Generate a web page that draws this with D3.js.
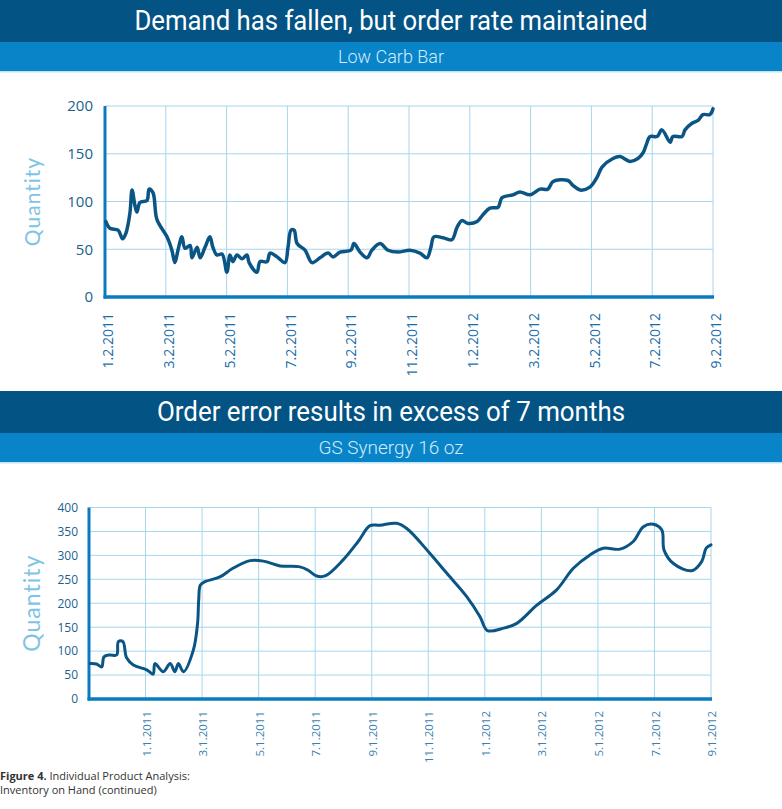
<!DOCTYPE html>
<html>
<head>
<meta charset="utf-8">
<script src="https://cdn.jsdelivr.net/npm/d3@7"></script>
<style>
  body { margin: 0; background: #fff; }
  svg { display: block; }
</style>
</head>
<body>
<div id="viz"></div>
<script>
// months since the first tick of each chart
const lowCarbMonth = [0.03, 0.16, 0.43, 0.58, 0.69, 0.82, 0.89, 0.99, 1.05, 1.15, 1.38, 1.45, 1.58, 1.71,
  2.04, 2.20, 2.30, 2.40, 2.53, 2.63, 2.80, 2.86, 3.03, 3.13, 3.29, 3.45, 3.55, 3.68, 3.85, 4.01, 4.11,
  4.21, 4.34, 4.51, 4.67, 4.74, 5.00, 5.10, 5.33, 5.43, 5.66, 5.92, 6.02, 6.12, 6.22, 6.32, 6.58, 6.81,
  7.07, 7.34, 7.50, 7.73, 8.09, 8.19, 8.39, 8.62, 8.78, 9.05, 9.31, 9.64, 10.03, 10.36, 10.59, 10.72,
  10.82, 11.12, 11.41, 11.58, 11.74, 11.94, 12.24, 12.43, 12.66, 12.93, 13.06, 13.42, 13.65, 13.98,
  14.31, 14.57, 14.74, 15.23, 15.39, 15.63, 15.95, 16.18, 16.35, 16.71, 16.94, 17.27, 17.53, 17.70,
  17.80, 17.93, 18.16, 18.32, 18.59, 18.68, 18.98, 19.08, 19.31, 19.51, 19.67, 19.90, 20.00];
const lowCarbQty = [79, 72, 70, 61, 67, 88, 112, 95, 89, 99, 101, 113, 109, 81,
  63, 49, 36, 49, 63, 51, 54, 41, 52, 41, 52, 63, 52, 44, 45, 26, 44,
  37, 44, 40, 44, 36, 26, 37, 37, 46, 42, 36, 52, 70, 70, 56, 49, 36,
  41, 46, 42, 47, 49, 56, 47, 41, 49, 56, 49, 47, 49, 46, 41, 52,
  63, 62, 60, 73, 80, 77, 79, 86, 93, 94, 104, 107, 110, 107,
  113, 113, 121, 122, 117, 112, 115, 125, 136, 145, 147, 142, 145, 151,
  159, 168, 168, 175, 162, 168, 168, 175, 182, 185, 191, 191, 197];

const synergyMonth = [0.04, 0.27, 0.45, 0.53, 0.74, 0.98, 1.04, 1.20, 1.33, 1.57, 2.04, 2.27, 2.33,
  2.63, 2.87, 3.04, 3.16, 3.34, 3.69, 3.84, 3.88, 3.94, 4.10, 4.63, 5.09, 5.70, 6.17, 6.76, 7.46,
  7.75, 8.05, 8.35, 8.98, 9.52, 9.94, 10.29, 10.88, 11.24, 12.06, 12.65, 13.36, 13.83, 14.09,
  14.66, 15.13, 15.84, 16.54, 17.13, 17.72, 18.19, 18.78, 19.25, 19.61, 19.96, 20.26, 20.34,
  20.67, 21.32, 21.67, 21.83, 22.00];
const synergyQty = [74, 73, 67, 88, 92, 92, 120, 120, 86, 71, 61, 52, 74,
  57, 74, 57, 74, 57, 102, 158, 207, 238, 245, 255, 273, 289, 288, 278, 276,
  269, 257, 257, 290, 329, 362, 363, 367, 356, 304, 263, 214, 172, 143,
  148, 158, 196, 228, 273, 301, 315, 313, 329, 360, 365, 353, 311,
  283, 268, 287, 315, 322];

const lowCarbTicks = ['1.2.2011', '3.2.2011', '5.2.2011', '7.2.2011', '9.2.2011', '11.2.2011',
  '1.2.2012', '3.2.2012', '5.2.2012', '7.2.2012', '9.2.2012'];
const synergyTicks = ['1.1.2011', '3.1.2011', '5.1.2011', '7.1.2011', '9.1.2011', '11.1.2011',
  '1.1.2012', '3.1.2012', '5.1.2012', '7.1.2012', '9.1.2012'];
const lowCarbY = [0, 50, 100, 150, 200];
const synergyY = [0, 50, 100, 150, 200, 250, 300, 350, 400];

const W = 782, H = 809;
const svg = d3.select('#viz').append('svg')
  .attr('width', W)
  .attr('height', H);

function banner(top, title, sub, titleLen, subLen) {
  svg.append('rect').attr('x', 0).attr('y', top).attr('width', W).attr('height', 42).attr('fill', '#035384');
  svg.append('rect').attr('x', 0).attr('y', top + 42).attr('width', W).attr('height', 29).attr('fill', '#0984c8');
  svg.append('rect').attr('x', 0).attr('y', top + 71).attr('width', W).attr('height', 1.5).attr('fill', '#bfe4f6');
  svg.append('text')
    .attr('x', W / 2).attr('y', top + 30)
    .attr('text-anchor', 'middle')
    .attr('textLength', titleLen).attr('lengthAdjust', 'spacingAndGlyphs')
    .style('font-family', 'Roboto, "DejaVu Sans Condensed", sans-serif')
    .style('font-size', '28px')
    .style('fill', '#fff')
    .text(title);
  svg.append('text')
    .attr('x', W / 2).attr('y', top + 63)
    .attr('text-anchor', 'middle')
    .attr('textLength', subLen).attr('lengthAdjust', 'spacingAndGlyphs')
    .style('font-family', 'Roboto, "DejaVu Sans Condensed", sans-serif')
    .style('font-weight', 300)
    .style('font-size', '19px')
    .style('fill', '#d3ecf9')
    .text(sub);
}

function chart(o) {
  let g = svg.append('g').attr('transform', `translate(${o.left}, ${o.top})`);

  let x = d3.scaleLinear().domain(o.xDomain).range([0, o.width]);
  let y = d3.scaleLinear().domain([0, d3.max(o.yTicks)]).range([o.height, 0]);

  // grid
  g.append('g').selectAll('line')
    .data(o.yTicks.filter(d => d > 0))
    .join('line')
    .attr('x1', 0).attr('x2', o.width)
    .attr('y1', d => y(d)).attr('y2', d => y(d))
    .style('stroke', '#a6d6ee').style('stroke-width', 1);

  g.append('g').selectAll('line')
    .data(o.xTickPos.filter(d => d > o.xDomain[0]))
    .join('line')
    .attr('x1', d => x(d)).attr('x2', d => x(d))
    .attr('y1', 0).attr('y2', o.height)
    .style('stroke', '#a6d6ee').style('stroke-width', 1);

  // y axis labels
  let ya = g.append('g')
    .call(d3.axisLeft(y).tickValues(o.yTicks).tickSize(0).tickPadding(o.yPad));
  ya.select('.domain').remove();
  ya.selectAll('text')
    .style('font-family', '"Open Sans", "DejaVu Sans", sans-serif')
    .style('font-size', o.yFont + 'px')
    .style('fill', '#1b5f8e');

  // x axis labels
  let xa = g.append('g')
    .attr('transform', `translate(0,${o.height})`)
    .call(d3.axisBottom(x).tickValues(o.xTickPos).tickSize(0)
      .tickFormat((d, i) => o.xLabels[i]));
  xa.select('.domain').remove();
  xa.selectAll('text')
    .attr('x', -o.xPad)
    .attr('y', 0)
    .attr('dy', o.xDy)
    .attr('transform', 'rotate(-90)')
    .attr('text-anchor', 'end')
    .style('font-family', '"Open Sans", "DejaVu Sans", sans-serif')
    .style('font-size', o.xFont + 'px')
    .style('fill', o.xColor);

  // axis lines
  g.append('line')
    .attr('x1', 0).attr('x2', 0).attr('y1', 0).attr('y2', o.height + 1.5)
    .style('stroke', '#0a7bc1').style('stroke-width', 3);
  g.append('line')
    .attr('x1', -1.5).attr('x2', o.width + 1).attr('y1', o.height).attr('y2', o.height)
    .style('stroke', '#0a7bc1').style('stroke-width', 3.5);

  // title of y axis
  svg.append('text')
    .attr('transform', `translate(${o.qx}, ${o.top + o.height / 2}) rotate(-90)`)
    .attr('text-anchor', 'middle')
    .style('font-family', 'Lato, "Open Sans", sans-serif')
    .style('font-size', o.qFont + 'px')
    .style('letter-spacing', '1px')
    .style('fill', '#7fc4e4')
    .text('Quantity');

  let line = d3.line()
    .x(d => x(d[0]))
    .y(d => y(d[1]))
    .curve(d3.curveCatmullRom.alpha(0.5));

  g.append('path')
    .datum(d3.zip(o.months, o.qty))
    .attr('d', line)
    .style('fill', 'none')
    .style('stroke', '#0b5585')
    .style('stroke-width', o.lineW)
    .style('stroke-linejoin', 'round')
    .style('stroke-linecap', 'round');
}

banner(0, 'Demand has fallen, but order rate maintained', 'Low Carb Bar', 513, 106);

chart({
  left: 105, top: 106, width: 608, height: 191,
  xDomain: [0, 20],
  xTickPos: d3.range(0, 21, 2),
  xLabels: lowCarbTicks,
  yTicks: lowCarbY,
  months: lowCarbMonth, qty: lowCarbQty,
  yPad: 12, yFont: 15, xPad: 16, xFont: 14, xDy: '0.55em', xColor: '#1a6ea8',
  qx: 40, qFont: 21, lineW: 3.5
});

banner(391, 'Order error results in excess of 7 months', 'GS Synergy 16 oz', 468, 145);

chart({
  left: 89, top: 507.5, width: 622, height: 191.5,
  xDomain: [0, 22],
  xTickPos: d3.range(2, 23, 2),
  xLabels: synergyTicks,
  yTicks: synergyY,
  months: synergyMonth, qty: synergyQty,
  yPad: 11, yFont: 12, xPad: 12, xFont: 11.5, xDy: '0.4em', xColor: '#3b7fae',
  qx: 40, qFont: 23, lineW: 3
});

// caption
let cap = svg.append('text')
  .attr('x', 0).attr('y', 780)
  .style('font-family', '"Open Sans", "DejaVu Sans", sans-serif')
  .style('font-size', '11px')
  .style('fill', '#333');
cap.append('tspan').style('font-weight', 'bold').text('Figure 4.');
cap.append('tspan').text(' Individual Product Analysis:');
svg.append('text')
  .attr('x', 0).attr('y', 794)
  .style('font-family', '"Open Sans", "DejaVu Sans", sans-serif')
  .style('font-size', '11px')
  .style('fill', '#333')
  .text('Inventory on Hand (continued)');
</script>
</body>
</html>
